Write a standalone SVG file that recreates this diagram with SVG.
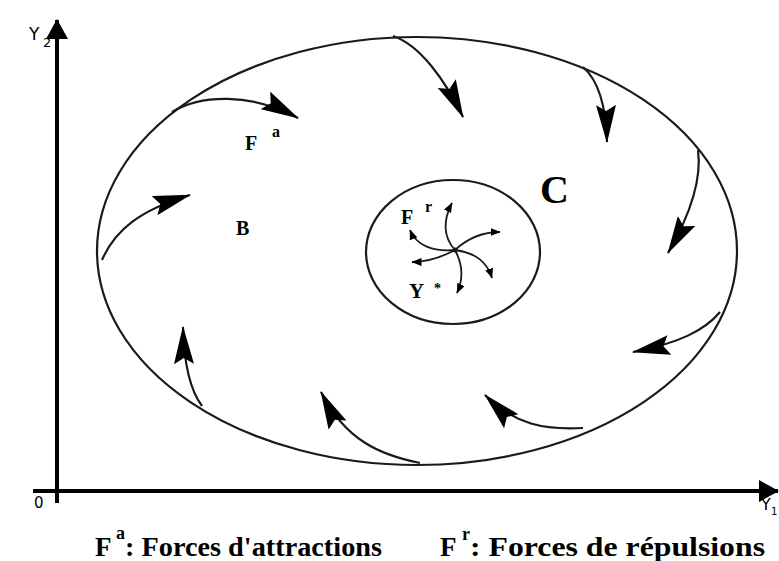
<svg xmlns="http://www.w3.org/2000/svg" width="779" height="561" viewBox="0 0 779 561">
<style>
.ln{fill:none;stroke:#1a1a1a;stroke-width:2.2}
.ax{fill:none;stroke:#000;stroke-width:4}
.sm{fill:none;stroke:#1a1a1a;stroke-width:1.8}
.lb{font-family:"Liberation Serif",serif;font-weight:bold;fill:#000}
.ay{font-family:"DejaVu Sans","Liberation Sans",sans-serif;fill:#000}
</style>
<defs>
<marker id="big" markerUnits="userSpaceOnUse" viewBox="0 0 38 20" refX="37" refY="10" markerWidth="38" markerHeight="20" orient="auto">
<path d="M0,0 L38,10 L0,20 L6,10 z" fill="#000"/>
</marker>
<marker id="sml" markerUnits="userSpaceOnUse" viewBox="0 0 10 8" refX="9.5" refY="4" markerWidth="10" markerHeight="8" orient="auto">
<path d="M0,0 L10,4 L0,8 z" fill="#000"/>
</marker>
<marker id="axh" markerUnits="userSpaceOnUse" viewBox="0 0 20 22" refX="19" refY="11" markerWidth="20" markerHeight="22" orient="auto">
<path d="M0,0 L20,11 L0,22 z" fill="#000"/>
</marker>
</defs>
<g id="axes">
<line class="ax" x1="57" y1="503" x2="57" y2="20" marker-end="url(#axh)"/>
<line class="ax" x1="33" y1="491" x2="778" y2="491" marker-end="url(#axh)"/>
<text class="ay" x="29" y="40" font-size="17">Y</text>
<text class="ay" x="43" y="47" font-size="13" fill="#555">2</text>
<text class="ay" x="34" y="508" font-size="15">0</text>
<text class="ay" x="761" y="510" font-size="16">Y</text>
<text class="ay" x="771" y="515" font-size="10">1</text>
</g>
<g id="regionB">
<ellipse class="ln" cx="417" cy="251" rx="320" ry="214"/>
<text class="lb" x="236" y="235" font-size="20">B</text>
<text class="lb" x="245" y="150" font-size="20">F</text>
<text class="lb" x="272" y="137" font-size="16">a</text>
</g>
<g id="regionC">
<ellipse class="ln" cx="453" cy="252" rx="87" ry="72"/>
<text class="lb" x="540" y="203" font-size="40">C</text>
<text class="lb" x="401" y="224" font-size="20">F</text>
<text class="lb" x="425" y="212" font-size="16">r</text>
<text class="lb" x="409" y="298" font-size="21">Y</text>
<text class="lb" x="434" y="293" font-size="14">*</text>
<circle cx="455" cy="250" r="2.5" fill="#000"/>
</g>
<g id="connectors">
<path class="ln" d="M172,112 C200,95 250,92 298,118" marker-end="url(#big)"/>
<path class="ln" d="M393,36 C420,45 445,80 463,117" marker-end="url(#big)"/>
<path class="ln" d="M583,67 C598,80 606,105 607,142" marker-end="url(#big)"/>
<path class="ln" d="M698,150 C702,180 690,215 668,253" marker-end="url(#big)"/>
<path class="ln" d="M720,312 C705,330 680,343 633,352" marker-end="url(#big)"/>
<path class="ln" d="M583,428 C545,430 515,425 485,395" marker-end="url(#big)"/>
<path class="ln" d="M420,463 C380,455 345,440 321,392" marker-end="url(#big)"/>
<path class="ln" d="M202,406 C190,390 184,365 183,327" marker-end="url(#big)"/>
<path class="ln" d="M102,260 C115,230 140,210 190,195" marker-end="url(#big)"/>
<path class="sm" d="M455,250 C443,237 443,220 452,203" marker-end="url(#sml)"/>
<path class="sm" d="M455,250 C432,252 416,245 410,230" marker-end="url(#sml)"/>
<path class="sm" d="M455,250 C468,238 483,232 500,232" marker-end="url(#sml)"/>
<path class="sm" d="M455,250 C440,258 425,262 412,262" marker-end="url(#sml)"/>
<path class="sm" d="M455,250 C476,253 487,262 492,278" marker-end="url(#sml)"/>
<path class="sm" d="M455,250 C463,265 463,280 457,293" marker-end="url(#sml)"/>
</g>
<g id="legend">
<text class="lb" x="95" y="556" font-size="27">F</text>
<text class="lb" x="116" y="539" font-size="18">a</text>
<text class="lb" x="125" y="556" font-size="27" textLength="257" lengthAdjust="spacingAndGlyphs">: Forces d'attractions</text>
<text class="lb" x="440" y="556" font-size="27">F</text>
<text class="lb" x="462" y="540" font-size="18">r</text>
<text class="lb" x="470" y="556" font-size="27" textLength="295" lengthAdjust="spacingAndGlyphs">: Forces de répulsions</text>
</g>
</svg>
